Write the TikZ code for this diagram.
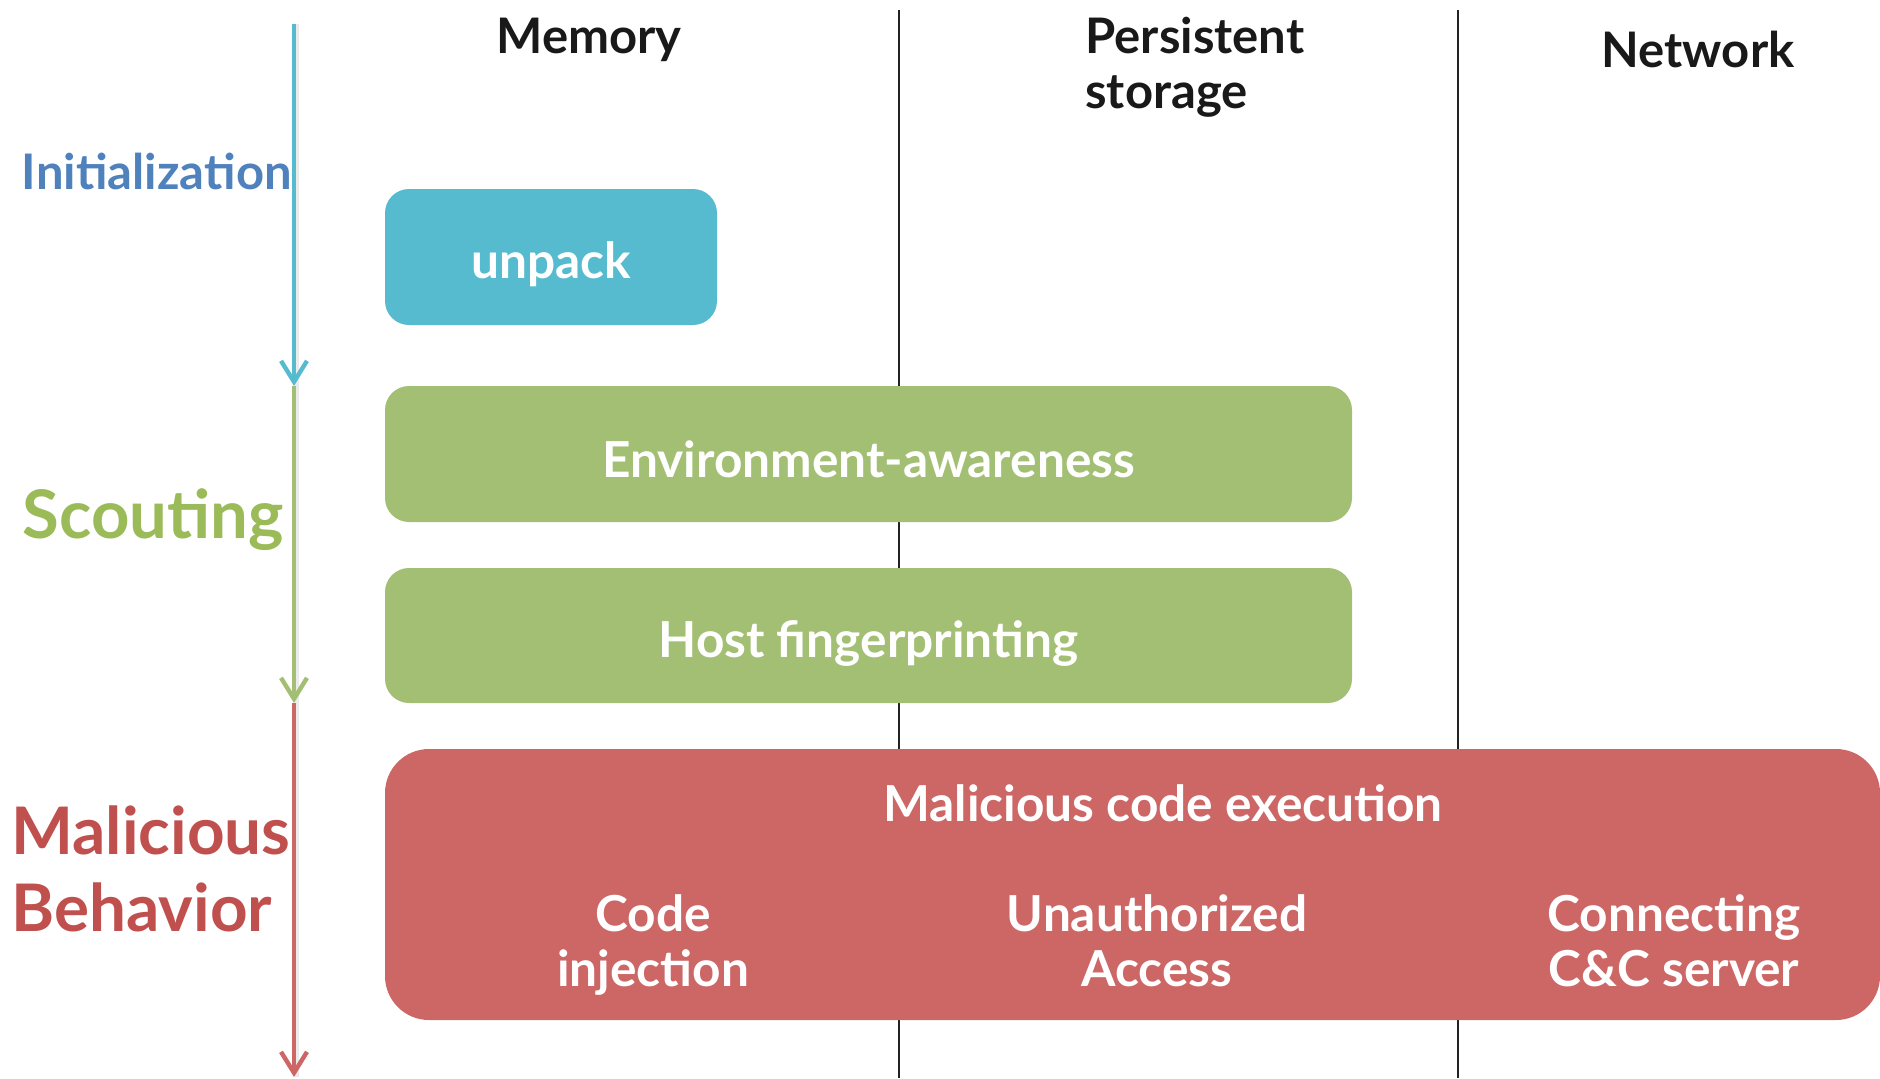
\documentclass[tikz,border=0pt]{standalone}
\usepackage{fontspec}
\setmainfont{Lato}
\usetikzlibrary{arrows.meta}
\definecolor{initblue}{HTML}{4F81BD}
\definecolor{scoutgreen}{HTML}{9BBB59}
\definecolor{malred}{HTML}{C0504D}
\definecolor{boxblue}{HTML}{56BBCF}
\definecolor{boxgreen}{HTML}{A3BF73}
\definecolor{boxred}{HTML}{CC6766}
\definecolor{lanegray}{HTML}{222222}
\tikzset{
  lane/.style={draw=lanegray, line width=1pt},
  header/.style={font=\fontsize{24.5}{27.5}\selectfont\bfseries, text=black!90, inner sep=0pt},
  phase/.style={inner sep=0pt, align=left},
  stage/.style={draw=none, inner sep=0pt, rounded corners=12pt},
  boxtext/.style={text=white, font=\fontsize{24.8}{27.5}\selectfont\bfseries, inner sep=0pt, align=center},
  flow/.style={line width=2pt, -{Straight Barb[length=10.5pt,width=13pt,line width=2.2pt]}},
  flowshade/.style={line width=2.4pt, draw=black, opacity=0.08}
}
\begin{document}
\begin{tikzpicture}[x=0.5pt,y=-0.5pt]
\useasboundingbox (0,0) rectangle (1880,1078);

% lane separators
\coordinate (l1top) at (899,10);
\coordinate (l1bot) at (899,1078);
\coordinate (l2top) at (1458,10);
\coordinate (l2bot) at (1458,1078);
\draw[lane] (l1top) -- (l1bot);
\draw[lane] (l2top) -- (l2bot);

% lane headers
\node[header] (hmem) at (589,40) {Memory};
\node[header, anchor=west, align=left] (hstore) at (1085,67) {Persistent\\storage};
\node[header] (hnet) at (1698,49) {Network};

% phase timeline
\coordinate (t0) at (294,24);
\coordinate (t1) at (294,386);
\coordinate (t2) at (294,703);
\coordinate (t3) at (294,1077);
\draw[flowshade] ([xshift=1.5]t0) -- ([xshift=1.5]t3);
\draw[flow, draw=boxblue] (t0) -- (t1);
\draw[flow, draw=boxgreen] (t1) -- (t2);
\draw[flow, draw=boxred] (t2) -- (t3);

% phase labels
\node[phase, text=initblue, font=\fontsize{24.5}{27}\selectfont\bfseries, anchor=east] (pinit) at (292,171) {Initialization};
\node[phase, text=scoutgreen, font=\fontsize{33.5}{40}\selectfont\bfseries, anchor=east] (pscout) at (284,520) {Scouting};
\node[phase, text=malred, font=\fontsize{32.8}{38.5}\selectfont\bfseries, anchor=west] (pmal) at (11,869) {Malicious\\Behavior};

% stages
\node[stage, fill=boxblue, minimum width=166pt, minimum height=68pt] (unpack) at (551,257) {};
\node[boxtext] at ([yshift=-3.5pt]unpack.center) {unpack};

\node[stage, fill=boxgreen, minimum width=483.5pt, minimum height=68pt] (env) at (868.5,454) {};
\node[boxtext] at ([yshift=-2.5pt]env.center) {Environment-awareness};

\node[stage, fill=boxgreen, minimum width=483.5pt, minimum height=67.5pt] (host) at (868.5,635.5) {};
\node[boxtext] at ([yshift=-4pt]host.center) {Host fingerprinting};

\node[stage, fill=boxred, rounded corners=22pt, minimum width=747.5pt, minimum height=135.5pt] (mal) at (1132.5,884.5) {};
\node[boxtext] (malt) at (1163,803) {Malicious code execution};
\node[boxtext] (inj) at (653,945) {Code\\injection};
\node[boxtext] (acc) at (1157,941) {Unauthorized\\Access};
\node[boxtext] (cnc) at (1674,941) {Connecting\\C\&C server};
\end{tikzpicture}
\end{document}
